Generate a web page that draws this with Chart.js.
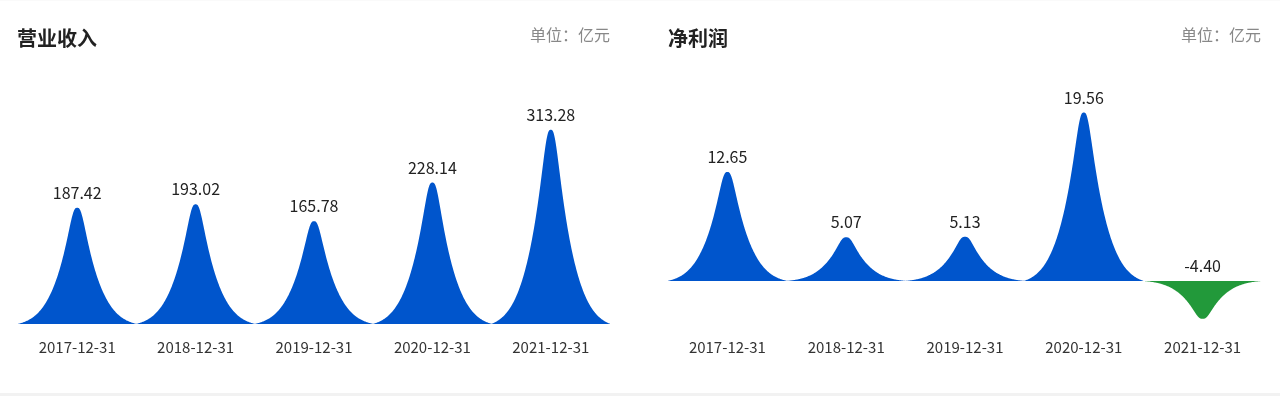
<!DOCTYPE html>
<html><head><meta charset="utf-8">
<script src="https://cdn.jsdelivr.net/npm/chart.js@4.4.0/dist/chart.umd.min.js"></script>
<style>
html,body{margin:0;padding:0;background:#fff;}
body{width:1280px;height:396px;position:relative;overflow:hidden;font-family:"Noto Sans CJK SC","Noto Sans",sans-serif;}
.wrap{position:absolute;top:0;width:640px;height:396px;}
.title{position:absolute;top:24px;font-size:20px;font-weight:bold;color:#222;line-height:28px;white-space:nowrap;}
.unit{position:absolute;top:24px;font-size:16px;color:#888;line-height:20px;white-space:nowrap;}
.band{position:absolute;left:0;right:0;bottom:0;height:3px;background:#f2f2f2;}
.topline{position:absolute;left:0;right:0;top:0;height:1px;background:#fafafa;}
canvas{position:absolute;left:0;top:0;}
</style></head>
<body>
<div class="topline"></div>
<div class="wrap" style="left:0">
  <canvas id="c1" width="640" height="396"></canvas>
  <div class="title" style="left:17px">营业收入</div>
  <div class="unit" style="right:30px">单位：亿元</div>
</div>
<div class="wrap" style="left:640px">
  <canvas id="c2" width="640" height="396"></canvas>
  <div class="title" style="left:28px">净利润</div>
  <div class="unit" style="right:19px">单位：亿元</div>
</div>
<div class="band"></div>
<script>
const categories = ['2017-12-31','2018-12-31','2019-12-31','2020-12-31','2021-12-31'];
const revenue = [187.42, 193.02, 165.78, 228.14, 313.28];
const netProfit = [12.65, 5.07, 5.13, 19.56, -4.40];
const revenueRange = [0, 400];
const profitRange = [-5, 23.8];

const BLUE = '#0055cc';
const GREEN = '#22993a';
Chart.defaults.font.family = '"Noto Sans CJK SC","Noto Sans",sans-serif';

// spike silhouette: rounded peak with concave flanks and a long tail
function spikeShape(u) {
  const k = 0.12;
  const s = Math.min(1, (u * u * u) / (u * u + k * k));
  const t = Math.max(0, 1 - s);
  return 0.8 * Math.pow(t, 3) + 0.2 * Math.pow(t, 1.2);
}

function spikePath(ctx, x, y, base, width) {
  const half = width / 2;
  const N = 120;
  ctx.beginPath();
  ctx.moveTo(x - half, base);
  for (let k = -N; k <= N; k++) {
    const u = k / N;
    const f = spikeShape(Math.abs(u));
    ctx.lineTo(x + u * half, base + (y - base) * f);
  }
  ctx.lineTo(x + half, base);
  ctx.closePath();
}

const spikePlugin = {
  id: 'spike',
  beforeDatasetsDraw(chart) {
    const ctx = chart.ctx;
    chart.data.datasets.forEach((ds, di) => {
      const meta = chart.getDatasetMeta(di);
      meta.data.forEach((bar, i) => {
        const p = bar.getProps(['x', 'y', 'base', 'width'], true);
        ctx.save();
        spikePath(ctx, p.x, p.y, p.base, p.width);
        ctx.fillStyle = ds.data[i] < 0 ? GREEN : BLUE;
        ctx.fill();
        ctx.restore();
      });
    });
    return false;
  },
  afterDraw(chart) {
    const ctx = chart.ctx;
    chart.data.datasets.forEach((ds, di) => {
      const meta = chart.getDatasetMeta(di);
      meta.data.forEach((bar, i) => {
        const p = bar.getProps(['x', 'y', 'base'], true);
        const v = ds.data[i];
        const top = Math.min(p.y, p.base);
        ctx.save();
        ctx.font = '16px "Noto Sans CJK SC","Noto Sans",sans-serif';
        ctx.fillStyle = '#222';
        ctx.textAlign = 'center';
        ctx.textBaseline = 'middle';
        ctx.fillText(v.toFixed(2), p.x, top - 15);
        ctx.restore();
      });
    });
  }
};

function makeChart(id, values, range, padL, padR) {
  return new Chart(document.getElementById(id), {
    type: 'bar',
    data: {
      labels: categories,
      datasets: [{ data: values, backgroundColor: BLUE, barPercentage: 1, categoryPercentage: 1 }]
    },
    options: {
      responsive: false,
      animation: false,
      devicePixelRatio: 1,
      layout: { padding: { left: padL, right: padR, top: 76, bottom: 26 } },
      plugins: { legend: { display: false }, tooltip: { enabled: false } },
      scales: {
        x: {
          grid: { display: false, drawTicks: false },
          border: { display: false },
          ticks: { color: '#333', font: { size: 15 }, padding: 14, maxRotation: 0, autoSkip: false }
        },
        y: { display: false, min: range[0], max: range[1] }
      }
    },
    plugins: [spikePlugin]
  });
}

makeChart('c1', revenue, revenueRange, 18, 30);
makeChart('c2', netProfit, profitRange, 28, 18);
</script>
</body></html>
